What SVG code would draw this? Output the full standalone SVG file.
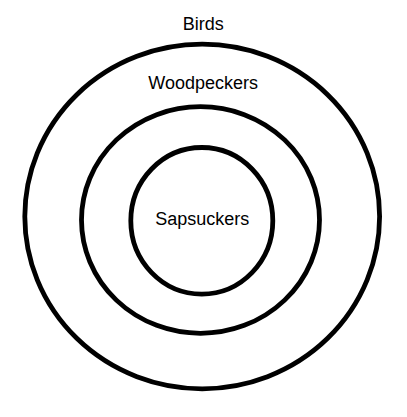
<svg xmlns="http://www.w3.org/2000/svg" width="407" height="417" viewBox="0 0 407 417">
<style>
.ring{fill:none;stroke:#000;stroke-width:4.8}
.lbl{font-family:"Liberation Sans",Arial,sans-serif;font-size:18px;fill:#000;text-anchor:middle}
</style>
<rect width="407" height="417" fill="#fff"/>
<g id="birds">
<ellipse class="ring" cx="202.2" cy="216.5" rx="177.4" ry="172.3"/>
<text class="lbl" x="203.3" y="29.7">Birds</text>
</g>
<g id="woodpeckers">
<ellipse class="ring" cx="200.5" cy="220" rx="119" ry="113.3"/>
<text class="lbl" x="203.2" y="88.7">Woodpeckers</text>
</g>
<g id="sapsuckers">
<ellipse class="ring" cx="201.8" cy="220.8" rx="71" ry="73.3"/>
<text class="lbl" x="202.2" y="225">Sapsuckers</text>
</g>
<g id="connectors"/>
</svg>
